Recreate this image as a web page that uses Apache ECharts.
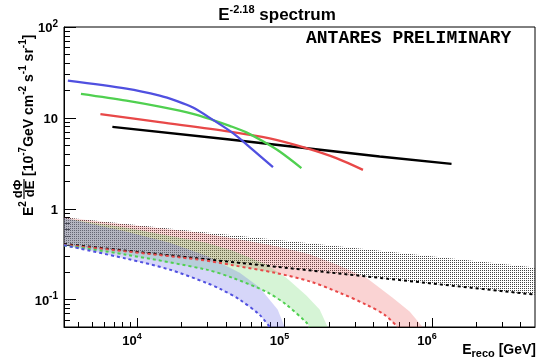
<!DOCTYPE html>
<html>
<head>
<meta charset="utf-8">
<title>E-2.18 spectrum</title>
<script src="https://cdn.jsdelivr.net/npm/echarts@6.0.0/dist/echarts.min.js"></script>
<style>
html, body { margin: 0; padding: 0; background: #fff; }
#main { width: 540px; height: 360px; }
</style>
</head>
<body>
<div id="main"></div>
<script type="text/javascript">
// E in GeV, flux = E^2 dPhi/dE in 1e-7 GeV cm-2 s-1 sr-1
var blueE = [3400, 8480, 14260, 18500, 23970, 32750, 44770, 61100, 83600];
var blueFlux = [25.7, 21.0, 17.6, 15.4, 13.0, 9.51, 6.79, 4.45, 2.87];
var greenE = [4170, 8480, 14260, 23970, 32750, 42500, 55160, 71500, 92800, 130300];
var greenFlux = [18.4, 15.5, 13.3, 11.1, 9.46, 8.17, 6.93, 5.52, 4.26, 2.80];
var redE = [5650, 14260, 42500, 79400, 140700, 224700, 340700];
var redFlux = [10.98, 8.97, 7.07, 5.95, 4.65, 3.61, 2.68];
var blackE = [6810, 42500, 441900, 1358000];
var blackFlux = [7.96, 5.78, 3.76, 3.12];

// dashed curves (lower edge of the dotted bands)
var blueLowE = [3200, 8500, 16660, 29550, 36370, 49700, 67900, 79300];
var blueLow = [0.397, 0.282, 0.214, 0.153, 0.132, 0.100, 0.068, 0.050];
var greenLowE = [3200, 8500, 29550, 44770, 75400, 103000, 140800, 148200];
var greenLow = [0.395, 0.312, 0.214, 0.173, 0.122, 0.088, 0.056, 0.050];
var redLowE = [3200, 26600, 44770, 88100, 148200, 236700, 359300, 477800, 585500];
var redLow = [0.402, 0.275, 0.239, 0.196, 0.159, 0.119, 0.088, 0.068, 0.050];
var blackLowE = [3200, 26600, 359300, 5000000];
var blackLow = [0.41, 0.283, 0.180, 0.1135];

// upper edge of the dotted bands
var blueUpE = [3200, 8500, 16660, 29550, 49700, 67900, 79300, 89900, 100300];
var blueUp = [0.796, 0.559, 0.423, 0.304, 0.198, 0.136, 0.100, 0.078, 0.050];
var greenUpE = [3200, 8500, 29550, 44770, 75400, 103000, 140800, 173200, 196300];
var greenUp = [0.786, 0.618, 0.423, 0.346, 0.243, 0.174, 0.111, 0.078, 0.050];
var redUpE = [3200, 26600, 44770, 88100, 148200, 236700, 359300, 541500, 706000, 864800];
var redUp = [0.80, 0.545, 0.474, 0.387, 0.315, 0.236, 0.174, 0.105, 0.074, 0.050];
var blackUpE = [3200, 26600, 359300, 5000000];
var blackUp = [0.807, 0.560, 0.359, 0.226];

// axis ticks
var xMajor = [1e4, 1e5, 1e6];
var xMinor = [4e3, 5e3, 6e3, 7e3, 8e3, 9e3, 2e4, 3e4, 4e4, 5e4, 6e4, 7e4, 8e4, 9e4,
    2e5, 3e5, 4e5, 5e5, 6e5, 7e5, 8e5, 9e5, 2e6, 3e6, 4e6];
var yMajor = [0.1, 1, 10, 100];
var yMinor = [0.06, 0.07, 0.08, 0.09, 0.2, 0.3, 0.4, 0.5, 0.6, 0.7, 0.8, 0.9,
    2, 3, 4, 5, 6, 7, 8, 9, 20, 30, 40, 50, 60, 70, 80, 90];

var FONT = '"Liberation Sans", Arial, sans-serif';
var BLUE = '#5050e0', GREEN = '#50d050', RED = '#e84848', BLACK = '#000';

function pairs(xs, ys) {
    return xs.map(function (x, i) { return [x, ys[i]]; });
}

// dot texture for the black band (coloured textures lose their colour here, so those get tints)
function dots(color) {
    var c = document.createElement('canvas');
    c.width = 2; c.height = 2;
    var ctx = c.getContext('2d');
    ctx.fillStyle = color;
    ctx.fillRect(0, 0, 1, 1);
    return c;
}

function expLabel(v) {
    var e = Math.round(Math.log(v) / Math.LN10);
    if (e === 0) return '{b|1}';
    if (e === 1) return '{b|10}';
    return '{b|10}{sup|' + e + '}';
}

function band(upE, up, loE, lo, fill) {
    return {
        type: 'custom', coordinateSystem: 'cartesian2d', clip: true, silent: true, z: 1,
        data: [[upE[0], up[0]]],
        renderItem: function (params, api) {
            var pts = [];
            for (var i = 0; i < upE.length; i++) pts.push(api.coord([upE[i], up[i]]));
            for (var j = loE.length - 1; j >= 0; j--) pts.push(api.coord([loE[j], lo[j]]));
            return {
                type: 'polygon',
                shape: { points: pts },
                style: { fill: fill, stroke: null }
            };
        }
    };
}

function curve(xs, ys, color, dashed, smooth) {
    return {
        type: 'line', data: pairs(xs, ys), symbol: 'none', showSymbol: false,
        smooth: smooth, silent: true, z: dashed ? 3 : 5,
        lineStyle: { color: color, width: dashed ? 2 : 2.3, type: dashed ? [3, 3] : 'solid' }
    };
}

var xLabelRich = {
    b: { fontSize: 13, fontWeight: 'bold', fontFamily: FONT, color: '#000', lineHeight: 16, verticalAlign: 'bottom' },
    sup: { fontSize: 9, fontWeight: 'bold', fontFamily: FONT, color: '#000', lineHeight: 10, verticalAlign: 'top', padding: [0, 10, 0, 0] }
};
var yLabelRich = {
    b: { fontSize: 13, fontWeight: 'bold', fontFamily: FONT, color: '#000', lineHeight: 16, verticalAlign: 'bottom' },
    sup: { fontSize: 10, fontWeight: 'bold', fontFamily: FONT, color: '#000', lineHeight: 10, verticalAlign: 'top' }
};
var titleRich = {
    b: { fontSize: 14, fontWeight: 'bold', fontFamily: FONT, fill: '#000', lineHeight: 18, verticalAlign: 'bottom' },
    sup: { fontSize: 10, fontWeight: 'bold', fontFamily: FONT, fill: '#000', lineHeight: 11, verticalAlign: 'top' }
};

var chart = echarts.init(document.getElementById('main'));

var option = {
    animation: false,
    backgroundColor: '#fff',
    grid: {
        left: 64, right: 5, top: 27, bottom: 33,
        show: true, borderColor: '#000', borderWidth: 1, backgroundColor: 'transparent',
        outerBoundsMode: 'none'
    },
    xAxis: [{
        type: 'log', min: 3200, max: 5e6,
        axisLine: { lineStyle: { color: '#000', width: 1 } },
        axisTick: { inside: true, length: 9, customValues: xMajor, lineStyle: { color: '#000' } },
        axisLabel: { customValues: xMajor, formatter: expLabel, margin: 5, rich: xLabelRich },
        splitLine: { show: false }, minorTick: { show: false }
    }, {
        type: 'log', min: 3200, max: 5e6, position: 'bottom',
        axisLine: { show: false },
        axisTick: { inside: true, length: 5, customValues: xMinor, lineStyle: { color: '#000' } },
        axisLabel: { show: false },
        splitLine: { show: false }
    }],
    yAxis: [{
        type: 'log', min: 0.05, max: 100,
        axisLine: { show: true, lineStyle: { color: '#000', width: 1 } },
        axisTick: { show: true, inside: true, length: 12, customValues: yMajor, lineStyle: { color: '#000' } },
        axisLabel: { customValues: yMajor, formatter: expLabel, margin: 6, rich: yLabelRich },
        splitLine: { show: false }, minorTick: { show: false }
    }, {
        type: 'log', min: 0.05, max: 100, position: 'left',
        axisLine: { show: false },
        axisTick: { show: true, inside: true, length: 6, customValues: yMinor, lineStyle: { color: '#000' } },
        axisLabel: { show: false },
        splitLine: { show: false }
    }],
    series: [
        band(blackUpE, blackUp, blackLowE, blackLow, { image: dots('#444'), repeat: 'repeat' }),
        band(redUpE, redUp, redLowE, redLow, 'rgba(235, 80, 80, 0.25)'),
        band(greenUpE, greenUp, greenLowE, greenLow, 'rgba(90, 210, 90, 0.25)'),
        band(blueUpE, blueUp, blueLowE, blueLow, 'rgba(90, 90, 230, 0.25)'),
        curve(blackLowE, blackLow, BLACK, true, false),
        curve(redLowE, redLow, RED, true, 0.3),
        curve(greenLowE, greenLow, GREEN, true, 0.3),
        curve(blueLowE, blueLow, BLUE, true, 0.3),
        curve(blackE, blackFlux, BLACK, false, false),
        curve(redE, redFlux, RED, false, 0.3),
        curve(greenE, greenFlux, GREEN, false, 0.3),
        curve(blueE, blueFlux, BLUE, false, 0.3)
    ],
    graphic: [
        {
            type: 'text', x: 277, y: 14, z: 10,
            style: {
                text: '{t|E}{ts|-2.18}{t| spectrum}',
                align: 'center', verticalAlign: 'middle', textAlign: 'center', textVerticalAlign: 'middle',
                rich: {
                    t: { fontSize: 17, fontWeight: 'bold', fontFamily: FONT, fill: '#000', lineHeight: 20, verticalAlign: 'bottom' },
                    ts: { fontSize: 11, fontWeight: 'bold', fontFamily: FONT, fill: '#000', lineHeight: 12, verticalAlign: 'top' }
                }
            }
        },
        {
            type: 'text', x: 306, y: 38, z: 10,
            style: {
                text: 'ANTARES PRELIMINARY', fill: '#000',
                font: 'bold 18px "Liberation Mono", "Courier New", monospace',
                align: 'left', verticalAlign: 'middle', textAlign: 'left', textVerticalAlign: 'middle'
            }
        },
        {
            type: 'text', x: 536, y: 351, z: 10,
            style: {
                text: '{b|E}{sub|reco}{b| [GeV]}',
                align: 'right', verticalAlign: 'middle', textAlign: 'right', textVerticalAlign: 'middle',
                rich: {
                    b: { fontSize: 14, fontWeight: 'bold', fontFamily: FONT, fill: '#000', lineHeight: 16, verticalAlign: 'top' },
                    sub: { fontSize: 11, fontWeight: 'bold', fontFamily: FONT, fill: '#000', lineHeight: 11, verticalAlign: 'bottom' }
                }
            }
        },
        {
            // y axis title, written left to right then turned up
            type: 'group', x: 27, y: 216, rotation: Math.PI / 2, z: 10,
            children: [
                {
                    type: 'text', x: 0, y: 0,
                    style: {
                        text: '{b|E}{sup|2}', rich: titleRich,
                        align: 'left', verticalAlign: 'middle', textAlign: 'left', textVerticalAlign: 'middle'
                    }
                },
                {
                    type: 'text', x: 27, y: -9,
                    style: {
                        text: 'dΦ', fill: '#000', fontSize: 13, fontWeight: 'bold', fontFamily: FONT,
                        align: 'center', verticalAlign: 'middle', textAlign: 'center', textVerticalAlign: 'middle'
                    }
                },
                {
                    type: 'line', shape: { x1: 17, y1: -3, x2: 37, y2: -3 },
                    style: { stroke: '#000', lineWidth: 1.2 }
                },
                {
                    type: 'text', x: 27, y: 3,
                    style: {
                        text: 'dE', fill: '#000', fontSize: 13, fontWeight: 'bold', fontFamily: FONT,
                        align: 'center', verticalAlign: 'middle', textAlign: 'center', textVerticalAlign: 'middle'
                    }
                },
                {
                    type: 'text', x: 40, y: 0,
                    style: {
                        text: '{b|[10}{sup|-7}{b|GeV cm}{sup|-2}{b| s}{sup|-1}{b| sr}{sup|-1}{b|]}',
                        rich: titleRich,
                        align: 'left', verticalAlign: 'middle', textAlign: 'left', textVerticalAlign: 'middle'
                    }
                }
            ]
        }
    ]
};

chart.setOption(option);
</script>
</body>
</html>
